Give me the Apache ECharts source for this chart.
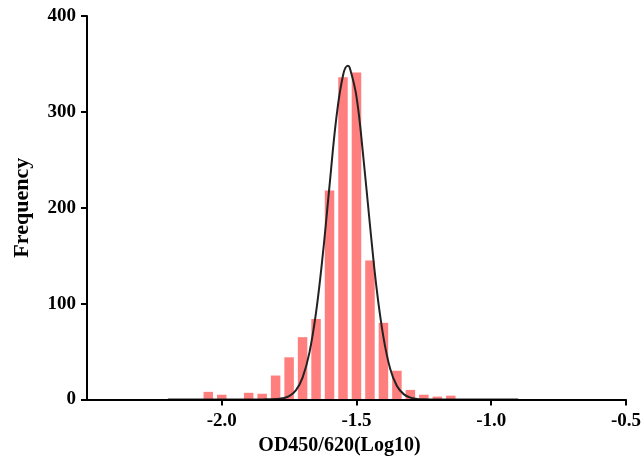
<!DOCTYPE html>
<html>
<head>
<meta charset="utf-8">
<script src="https://cdn.jsdelivr.net/npm/echarts@6/dist/echarts.min.js"></script>
<style>html,body{margin:0;padding:0;background:#fff}#c{width:644px;height:463px}</style>
</head>
<body>
<div id="c"></div>
<script>
// Histogram bins (bin centres, width 0.05) and counts
const binCenters = [-2.05, -2.0, -1.9, -1.85, -1.8, -1.75, -1.7, -1.65, -1.6, -1.55, -1.5, -1.45, -1.4, -1.35, -1.3, -1.25, -1.2, -1.15];
const counts     = [8, 5, 7, 6, 25, 44, 65, 84, 218, 336, 341, 145, 80, 30, 10, 5, 3, 4];
// Fitted normal curve
const curveX = [-2.2, -1.9, -1.85, -1.8, -1.775, -1.75, -1.725, -1.7, -1.675, -1.65, -1.625, -1.6, -1.575, -1.55, -1.532, -1.525, -1.5, -1.475, -1.45, -1.425, -1.4, -1.375, -1.35, -1.325, -1.3, -1.275, -1.25, -1.2, -0.9];
const curveY = [0, 0, 0.1, 0.4, 1.2, 3.6, 9.6, 22.9, 48.4, 90.9, 151, 223, 293, 338, 348, 346, 316, 254, 182, 115, 65, 32, 14, 5.6, 1.9, 0.6, 0.2, 0, 0];
// Axis ticks
const xTicks = [-2.0, -1.5, -1.0, -0.5];
const yTicks = [0, 100, 200, 300, 400];

const font = '"Liberation Serif", "Times New Roman", serif';
const chart = echarts.init(document.getElementById('c'), null, {renderer: 'canvas'});
chart.setOption({
  animation: false,
  grid: {left: 87, right: 17, top: 16, bottom: 63.5},
  xAxis: {
    type: 'value', min: -2.5, max: -0.5, z: 10,
    name: 'OD450/620(Log10)', nameLocation: 'middle', nameGap: 28,
    nameTextStyle: {fontFamily: font, fontWeight: 'bold', fontSize: 20, color: '#000', padding: [0, 34, 0, 0]},
    axisLine: {lineStyle: {color: '#000', width: 2}},
    axisTick: {customValues: xTicks, length: 6, lineStyle: {color: '#000', width: 2}},
    axisLabel: {customValues: xTicks, margin: 12, fontFamily: font, fontWeight: 'bold', fontSize: 19, color: '#000',
      formatter: v => v.toFixed(1)},
    splitLine: {show: false}
  },
  yAxis: {
    type: 'value', min: 0, max: 400, interval: 100, z: 10,
    name: 'Frequency', nameLocation: 'middle', nameGap: 54,
    nameTextStyle: {fontFamily: font, fontWeight: 'bold', fontSize: 22, color: '#000'},
    axisLine: {show: true, lineStyle: {color: '#000', width: 2}},
    axisTick: {show: true, customValues: yTicks, length: 6, lineStyle: {color: '#000', width: 2}},
    axisLabel: {margin: 11, fontFamily: font, fontWeight: 'bold', fontSize: 19, color: '#000'},
    splitLine: {show: false}
  },
  series: [
    {
      type: 'bar', barWidth: 9.5,
      data: binCenters.map((x, i) => [x, counts[i]]),
      itemStyle: {color: '#FF7F7F'}
    },
    {
      type: 'line', smooth: 0.4, symbol: 'none', z: 5,
      data: curveX.map((x, i) => [x, curveY[i]]),
      lineStyle: {color: '#222', width: 2}
    }
  ]
});
</script>
</body>
</html>
